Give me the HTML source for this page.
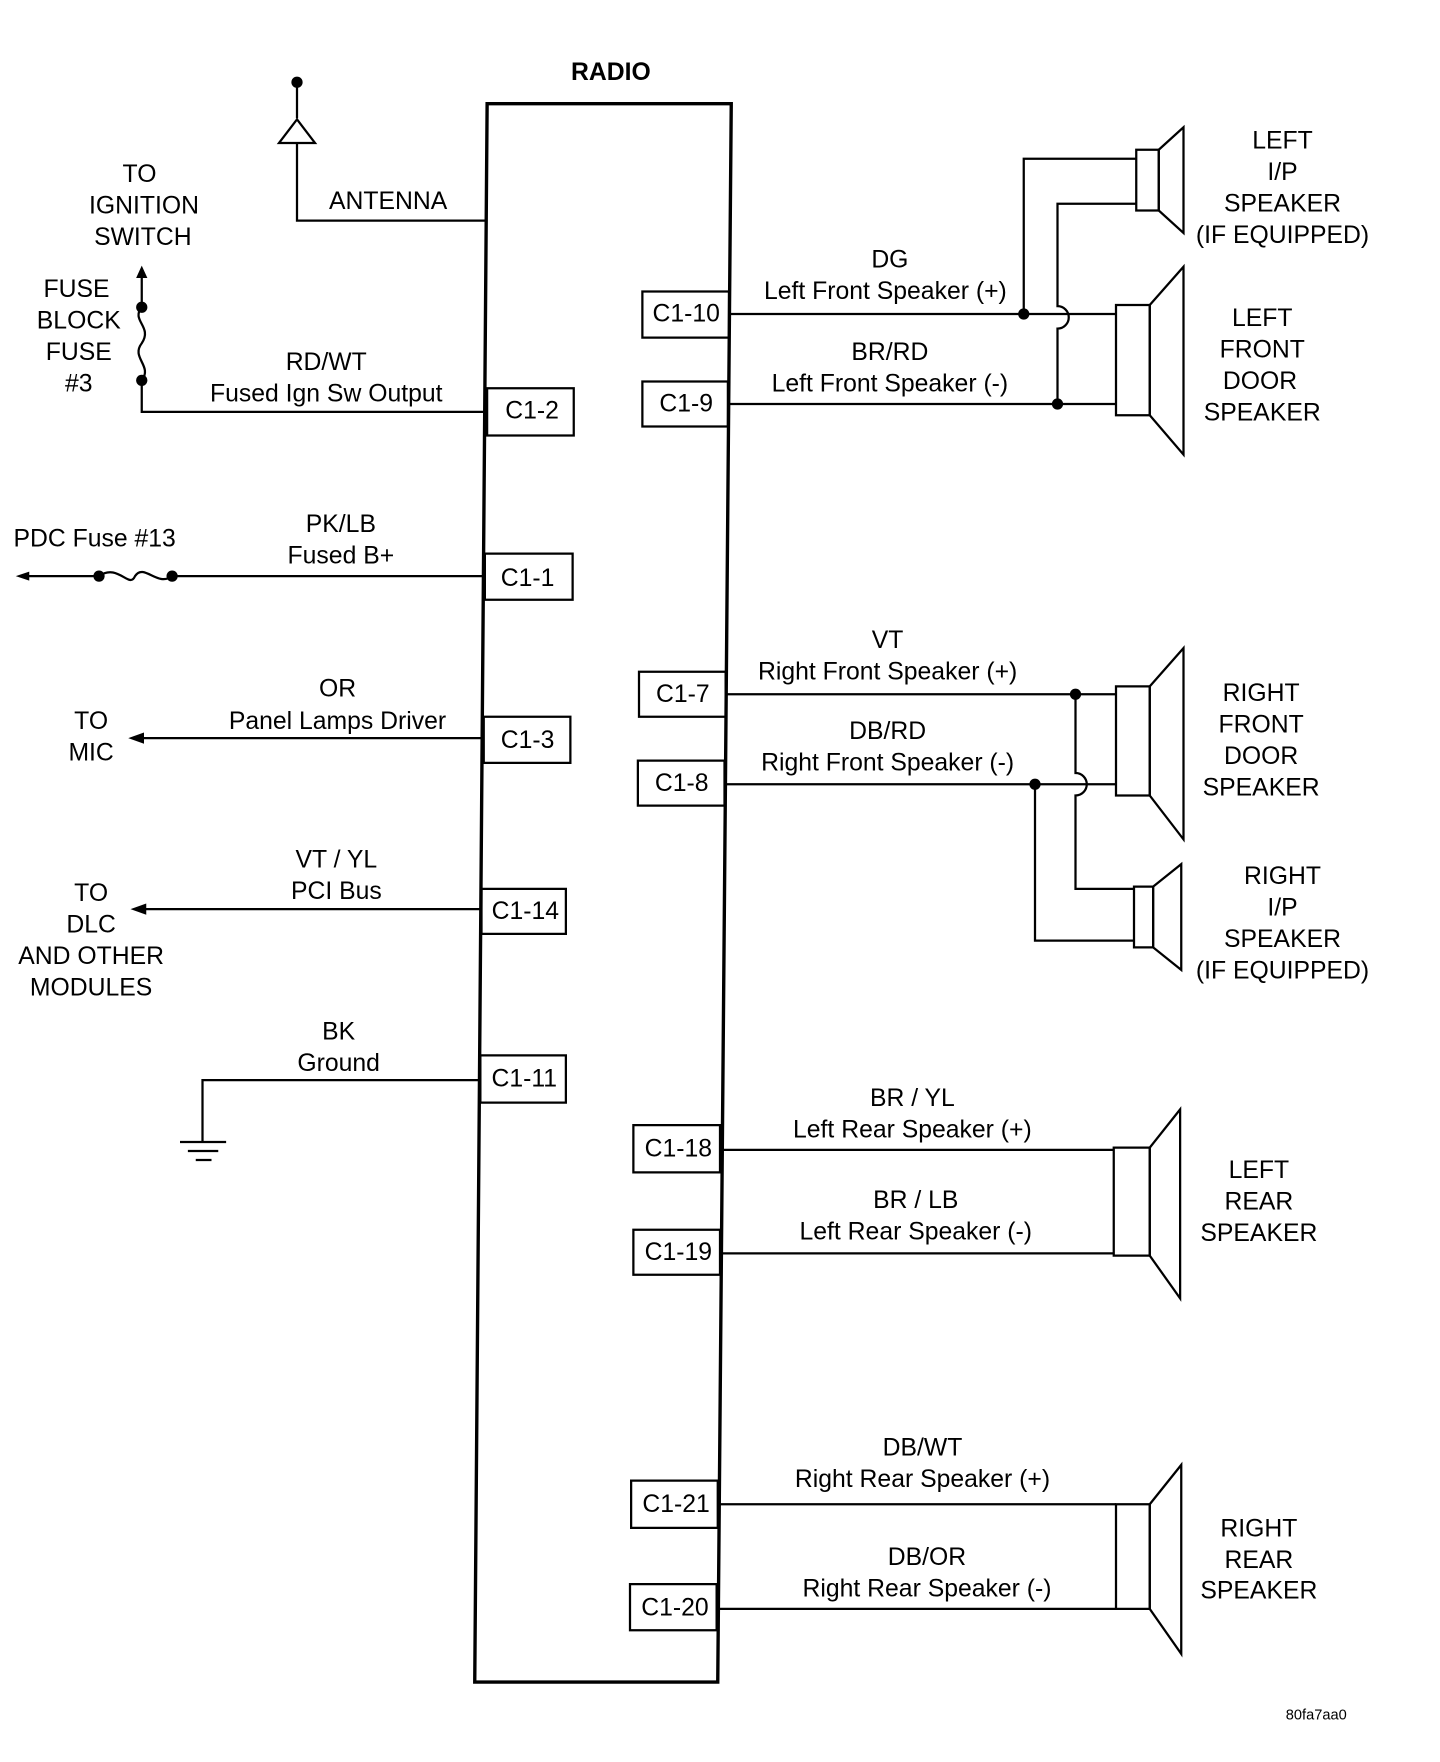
<!DOCTYPE html>
<html><head><meta charset="utf-8"><style>
html,body{margin:0;padding:0;background:#fff}
svg{display:block}
text{font-family:"Liberation Sans",Arial,sans-serif;font-size:22px;fill:#000;text-anchor:middle;dominant-baseline:middle}
.l{text-anchor:start}
</style></head><body>
<svg width="1440" height="1762" viewBox="0 0 1280 1566" xmlns="http://www.w3.org/2000/svg">
<g fill="none" stroke="#000" stroke-width="2">
<polygon points="433,92 650,92 638,1495 422,1495" stroke-width="3"/>
<!-- left connectors -->
<rect x="433" y="345" width="77" height="42"/>
<rect x="431" y="492" width="78" height="41"/>
<rect x="430" y="637" width="77" height="41"/>
<rect x="428" y="790" width="75" height="40"/>
<rect x="427" y="938" width="76" height="42"/>
<!-- right connectors -->
<rect x="571" y="259" width="77" height="41"/>
<rect x="571" y="339" width="76" height="40"/>
<rect x="568" y="597" width="77" height="40"/>
<rect x="567" y="676" width="77" height="40"/>
<rect x="563" y="1000" width="77" height="42"/>
<rect x="563" y="1093" width="77" height="40"/>
<rect x="561" y="1316" width="77" height="42"/>
<rect x="560" y="1408" width="77" height="41"/>
<!-- antenna -->
<polyline points="264,73 264,105"/>
<polygon points="264,106 248,127 280,127"/>
<polyline points="264,127 264,196 433,196"/>
<!-- ignition -->
<polyline points="126,244 126,273"/>
<path d="M126,273 C116,285 136,290 126,305 C116,318 136,325 126,338"/>
<polyline points="126,338 126,366 433,366"/>
<!-- PDC -->
<line x1="20" y1="512" x2="88" y2="512"/>
<path d="M88,512 C105,500 115,524 120,512 C128,500 140,522 153,512"/>
<line x1="153" y1="512" x2="431" y2="512"/>
<line x1="122" y1="656" x2="430" y2="656"/>
<line x1="124" y1="808" x2="428" y2="808"/>
<!-- ground -->
<polyline points="427,960 180,960 180,1015"/>
<line x1="160" y1="1015" x2="201" y2="1015"/>
<line x1="167" y1="1023" x2="194" y2="1023"/>
<line x1="174" y1="1031" x2="188" y2="1031"/>
<!-- left front -->
<line x1="648" y1="279" x2="992" y2="279"/>
<line x1="647" y1="359" x2="992" y2="359"/>
<polyline points="910,279 910,141 1010,141"/>
<path d="M940,359 L940,292 A7,7 0 0 0 940,272 L940,181 L1010,181"/>
<rect x="1010" y="133" width="20" height="54"/>
<polygon points="1030,133 1052,113 1052,207 1030,187"/>
<rect x="992" y="271" width="30" height="98"/>
<polygon points="1022,271 1052,237 1052,404 1022,369"/>
<!-- right front -->
<line x1="645" y1="617" x2="992" y2="617"/>
<line x1="644" y1="697" x2="992" y2="697"/>
<path d="M956,617 L956,687 A7,7 0 0 1 956,707 L956,790 L1008,790"/>
<polyline points="920,697 920,836 1008,836"/>
<rect x="992" y="610" width="30" height="97"/>
<polygon points="1022,610 1052,576 1052,746 1022,707"/>
<rect x="1008" y="788" width="17" height="54"/>
<polygon points="1025,788 1050,768 1050,862 1025,842"/>
<!-- left rear -->
<line x1="640" y1="1022" x2="990" y2="1022"/>
<line x1="640" y1="1114" x2="990" y2="1114"/>
<rect x="990" y="1020" width="32" height="96"/>
<polygon points="1022,1020 1049,986 1049,1154 1022,1116"/>
<!-- right rear -->
<line x1="638" y1="1337" x2="992" y2="1337"/>
<line x1="637" y1="1430" x2="992" y2="1430"/>
<rect x="992" y="1337" width="30" height="93"/>
<polygon points="1022,1337 1050,1302 1050,1470 1022,1430"/>
</g>
<g fill="#000">
<circle cx="264" cy="73" r="5"/>
<circle cx="126" cy="273" r="5"/><circle cx="126" cy="338" r="5"/>
<polygon points="126,236 121,247 131,247"/>
<circle cx="88" cy="512" r="5"/><circle cx="153" cy="512" r="5"/>
<polygon points="14,512 26,508 26,516"/>
<polygon points="114,656 128,651 128,661"/>
<polygon points="116,808 130,803 130,813"/>
<circle cx="910" cy="279" r="5"/><circle cx="940" cy="359" r="5"/>
<circle cx="956" cy="617" r="5"/><circle cx="920" cy="697" r="5"/>
</g>
<text x="543" y="65" style="font-weight:bold">RADIO</text>
<text x="345" y="180">ANTENNA</text>
<text x="124" y="156">TO</text><text x="128" y="184">IGNITION</text><text x="127" y="212">SWITCH</text>
<text x="68" y="258">FUSE</text><text x="70" y="286">BLOCK</text><text x="70" y="314">FUSE</text><text x="70" y="342">#3</text>
<text x="290" y="323">RD/WT</text><text x="290" y="351">Fused Ign Sw Output</text>
<text x="473" y="366">C1-2</text>
<text class="l" x="12" y="480">PDC Fuse #13</text>
<text x="303" y="467">PK/LB</text><text x="303" y="495">Fused B+</text>
<text x="469" y="515">C1-1</text>
<text x="300" y="613">OR</text><text x="300" y="642">Panel Lamps Driver</text>
<text x="81" y="642">TO</text><text x="81" y="670">MIC</text>
<text x="469" y="659">C1-3</text>
<text x="299" y="765">VT / YL</text><text x="299" y="793">PCI Bus</text>
<text x="81" y="795">TO</text><text x="81" y="823">DLC</text><text x="81" y="851">AND OTHER</text><text x="81" y="879">MODULES</text>
<text x="467" y="811">C1-14</text>
<text x="301" y="918">BK</text><text x="301" y="946">Ground</text>
<text x="466" y="960">C1-11</text>
<text x="610" y="280">C1-10</text><text x="610" y="360">C1-9</text>
<text x="607" y="618">C1-7</text><text x="606" y="697">C1-8</text>
<text x="603" y="1022">C1-18</text><text x="603" y="1114">C1-19</text>
<text x="601" y="1338">C1-21</text><text x="600" y="1430">C1-20</text>
<text x="791" y="232">DG</text><text x="787" y="260">Left Front Speaker (+)</text>
<text x="791" y="314">BR/RD</text><text x="791" y="342">Left Front Speaker (-)</text>
<text x="1140" y="126">LEFT</text><text x="1140" y="154">I/P</text><text x="1140" y="182">SPEAKER</text><text x="1140" y="210">(IF EQUIPPED)</text>
<text x="1122" y="284">LEFT</text><text x="1122" y="312">FRONT</text><text x="1120" y="340">DOOR</text><text x="1122" y="368">SPEAKER</text>
<text x="789" y="570">VT</text><text x="789" y="598">Right Front Speaker (+)</text>
<text x="789" y="651">DB/RD</text><text x="789" y="679">Right Front Speaker (-)</text>
<text x="1121" y="617">RIGHT</text><text x="1121" y="645">FRONT</text><text x="1121" y="673">DOOR</text><text x="1121" y="701">SPEAKER</text>
<text x="1140" y="780">RIGHT</text><text x="1140" y="808">I/P</text><text x="1140" y="836">SPEAKER</text><text x="1140" y="864">(IF EQUIPPED)</text>
<text x="811" y="977">BR / YL</text><text x="811" y="1005">Left Rear Speaker (+)</text>
<text x="814" y="1068">BR / LB</text><text x="814" y="1096">Left Rear Speaker (-)</text>
<text x="1119" y="1041">LEFT</text><text x="1119" y="1069">REAR</text><text x="1119" y="1097">SPEAKER</text>
<text x="820" y="1288">DB/WT</text><text x="820" y="1316">Right Rear Speaker (+)</text>
<text x="824" y="1385">DB/OR</text><text x="824" y="1413">Right Rear Speaker (-)</text>
<text x="1119" y="1360">RIGHT</text><text x="1119" y="1388">REAR</text><text x="1119" y="1415">SPEAKER</text>
<text x="1170" y="1525" style="font-size:13px">80fa7aa0</text>
</svg>
</body></html>
